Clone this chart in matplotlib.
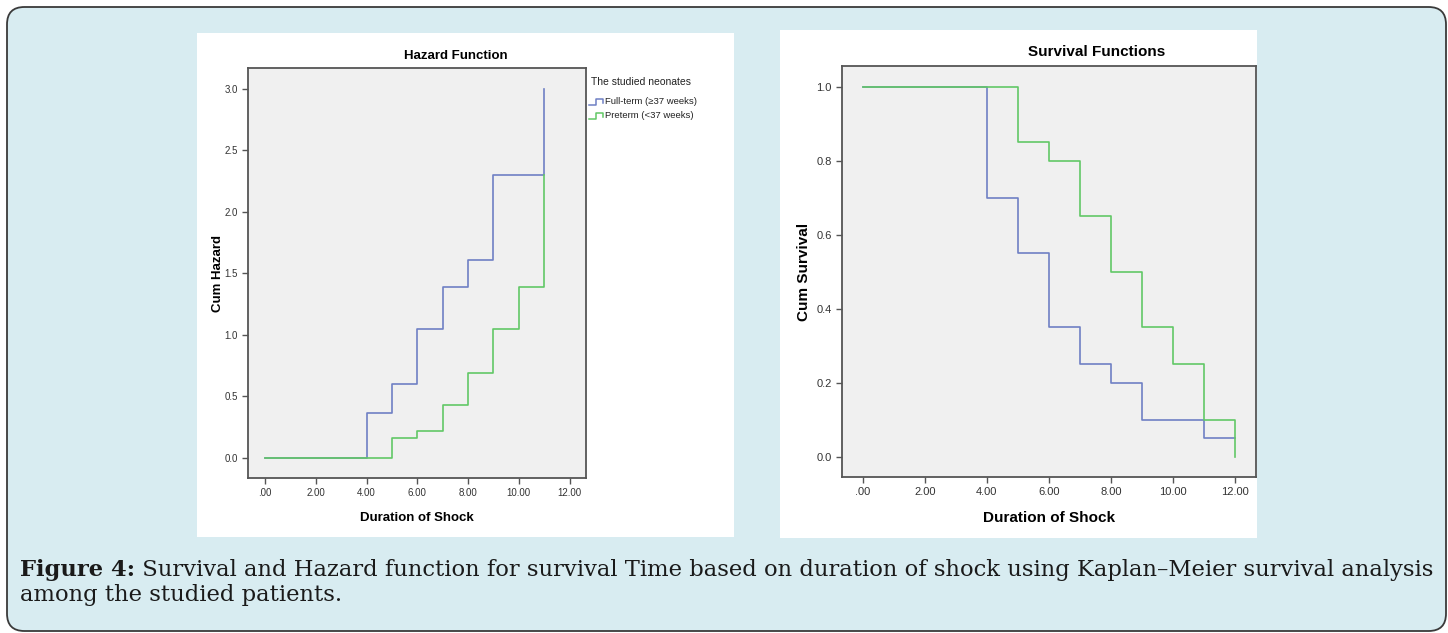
import numpy as np
import matplotlib
matplotlib.use("Agg")
import matplotlib.pyplot as plt
from matplotlib.patches import FancyBboxPatch, Rectangle
from matplotlib.lines import Line2D

W, H = 1448, 633

# Hazard function (cumulative hazard), SPSS output
haz_full_t = [0, 4, 5, 6, 7, 8, 9, 11]
haz_full_v = [0.0, 0.36, 0.60, 1.05, 1.39, 1.61, 2.30, 3.00]
haz_pre_t = [0, 5, 6, 7, 8, 9, 10, 11]
haz_pre_v = [0.0, 0.16, 0.22, 0.43, 0.69, 1.05, 1.39, 2.30]

# Survival functions
surv_full_t = [0, 4, 5, 6, 7, 8, 9, 11, 12]
surv_full_v = [1.0, 0.70, 0.55, 0.35, 0.25, 0.20, 0.10, 0.05, 0.05]
surv_pre_t = [0, 5, 6, 7, 8, 9, 10, 11, 12]
surv_pre_v = [1.0, 0.85, 0.80, 0.65, 0.50, 0.35, 0.25, 0.10, 0.0]

group_labels = ["Full-term (\u226537 weeks)", "Preterm (<37 weeks)"]
x_ticks = [0, 2, 4, 6, 8, 10, 12]
x_ticklabels = [".00", "2.00", "4.00", "6.00", "8.00", "10.00", "12.00"]
haz_yticks = [0.0, 0.5, 1.0, 1.5, 2.0, 2.5, 3.0]
surv_yticks = [0.0, 0.2, 0.4, 0.6, 0.8, 1.0]

BLUE = "#6f80c4"
GREEN = "#62c866"
BOXBG = "#d8ecf1"
PLOTBG = "#f0f0f0"
FRAME = "#555555"
SANS = "Liberation Sans"


def px_rect(x0, y0, x1, y1):
    # pixel box (top-left origin) -> figure fraction [l, b, w, h]
    return [x0 / W, 1 - y1 / H, (x1 - x0) / W, (y1 - y0) / H]


def fx(x):
    return x / W


def fy(y):
    return 1 - y / H


fig = plt.figure(figsize=(W / 100, H / 100), dpi=100)
fig.patch.set_facecolor("white")

# rounded light-blue frame around the figure
box = FancyBboxPatch((fx(7), fy(631)), fx(1446) - fx(7), fy(7) - fy(631),
                     boxstyle="round,pad=0,rounding_size=0.012",
                     transform=fig.transFigure, facecolor=BOXBG,
                     edgecolor="#3a3a3a", linewidth=1.3, mutation_aspect=W / H,
                     zorder=-3)
fig.add_artist(box)

# white panels behind the two SPSS charts
for (x0, y0, x1, y1) in [(197, 33, 734, 537), (780, 30, 1257, 538)]:
    fig.add_artist(Rectangle((fx(x0), fy(y1)), fx(x1) - fx(x0), fy(y0) - fy(y1),
                             transform=fig.transFigure, facecolor="white",
                             edgecolor="none", zorder=-2))


def style_axes(ax, tick_size):
    ax.set_facecolor(PLOTBG)
    for s in ax.spines.values():
        s.set_color(FRAME)
        s.set_linewidth(1.3)
    ax.set_xticks(x_ticks)
    ax.set_xticklabels(x_ticklabels)
    ax.tick_params(axis="both", colors=FRAME, labelcolor="#333333",
                   labelsize=tick_size, length=4, width=1.0)
    for lab in ax.get_xticklabels() + ax.get_yticklabels():
        lab.set_fontfamily(SANS)


# ---- left: hazard function
ax1 = fig.add_axes(px_rect(248, 68, 586, 478))
ax1.step(haz_full_t, haz_full_v, where="post", color=BLUE, lw=1.2)
ax1.step(haz_pre_t, haz_pre_v, where="post", color=GREEN, lw=1.2)
ax1.set_xlim(-0.67, 12.65)
ax1.set_ylim(-0.166, 3.17)
ax1.set_yticks(haz_yticks)
ax1.set_yticklabels([f"{v:.1f}" for v in haz_yticks])
style_axes(ax1, 7)
ax1.set_xlabel("Duration of Shock", fontsize=9.5, fontweight="bold",
               family=SANS, labelpad=10)
ax1.set_ylabel("Cum Hazard", fontsize=9.5, fontweight="bold",
               family=SANS, labelpad=0)
fig.text(fx(456), fy(56), "Hazard Function", ha="center", va="center",
         fontsize=9.5, fontweight="bold", family=SANS)

# legend drawn as in SPSS, with small step icons
fig.text(fx(591), fy(82), "The studied neonates", ha="left", va="center",
         fontsize=7.5, family=SANS, color="#222222")
for yy, col, lab in [(102, BLUE, group_labels[0]), (116, GREEN, group_labels[1])]:
    xs = [fx(589), fx(596), fx(596), fx(603), fx(603)]
    ys = [fy(yy + 3), fy(yy + 3), fy(yy - 3), fy(yy - 3), fy(yy + 1)]
    fig.add_artist(Line2D(xs, ys, transform=fig.transFigure, color=col, lw=1.1))
    fig.text(fx(605), fy(yy), lab, ha="left", va="center", fontsize=6.8,
             family=SANS, color="#222222")

# ---- right: survival functions
ax2 = fig.add_axes(px_rect(842, 66, 1256, 477))
ax2.step(surv_full_t, surv_full_v, where="post", color=BLUE, lw=1.2)
ax2.step(surv_pre_t, surv_pre_v, where="post", color=GREEN, lw=1.2)
ax2.set_xlim(-0.67, 12.68)
ax2.set_ylim(-0.054, 1.056)
ax2.set_yticks(surv_yticks)
ax2.set_yticklabels([f"{v:.1f}" for v in surv_yticks])
style_axes(ax2, 8)
ax2.set_xlabel("Duration of Shock", fontsize=11, fontweight="bold",
               family=SANS, labelpad=10)
ax2.set_ylabel("Cum Survival", fontsize=11, fontweight="bold",
               family=SANS, labelpad=4)
fig.text(fx(1097), fy(52), "Survival Functions", ha="center", va="center",
         fontsize=11, fontweight="bold", family=SANS)

# ---- caption
cap_bold = "Figure 4:"
cap_line1 = (" Survival and Hazard function for survival Time based on duration "
             "of shock using Kaplan\u2013Meier survival analysis")
cap_line2 = "among the studied patients."
SERIF = "DejaVu Serif"
fs = 13.0
renderer = fig.canvas.get_renderer()
t_b = fig.text(fx(20), fy(576), cap_bold, fontsize=fs, fontweight="bold",
               family=SERIF, ha="left", va="baseline", color="#1a1a1a")
t_r = fig.text(0, fy(576), cap_line1, fontsize=fs, family=SERIF,
               ha="left", va="baseline", color="#1a1a1a")
wb = t_b.get_window_extent(renderer).width
wr = t_r.get_window_extent(renderer).width
# scale so the first line spans the full width like the justified original
fs = fs * (1433 - 20) / (wb + wr)
t_b.set_fontsize(fs)
t_r.set_fontsize(fs)
wb = t_b.get_window_extent(renderer).width
t_r.set_x(fx(20 + wb))
fig.text(fx(20), fy(601), cap_line2, fontsize=fs, family=SERIF,
         ha="left", va="baseline", color="#1a1a1a")

fig.savefig("out.png", dpi=100, facecolor="white")
